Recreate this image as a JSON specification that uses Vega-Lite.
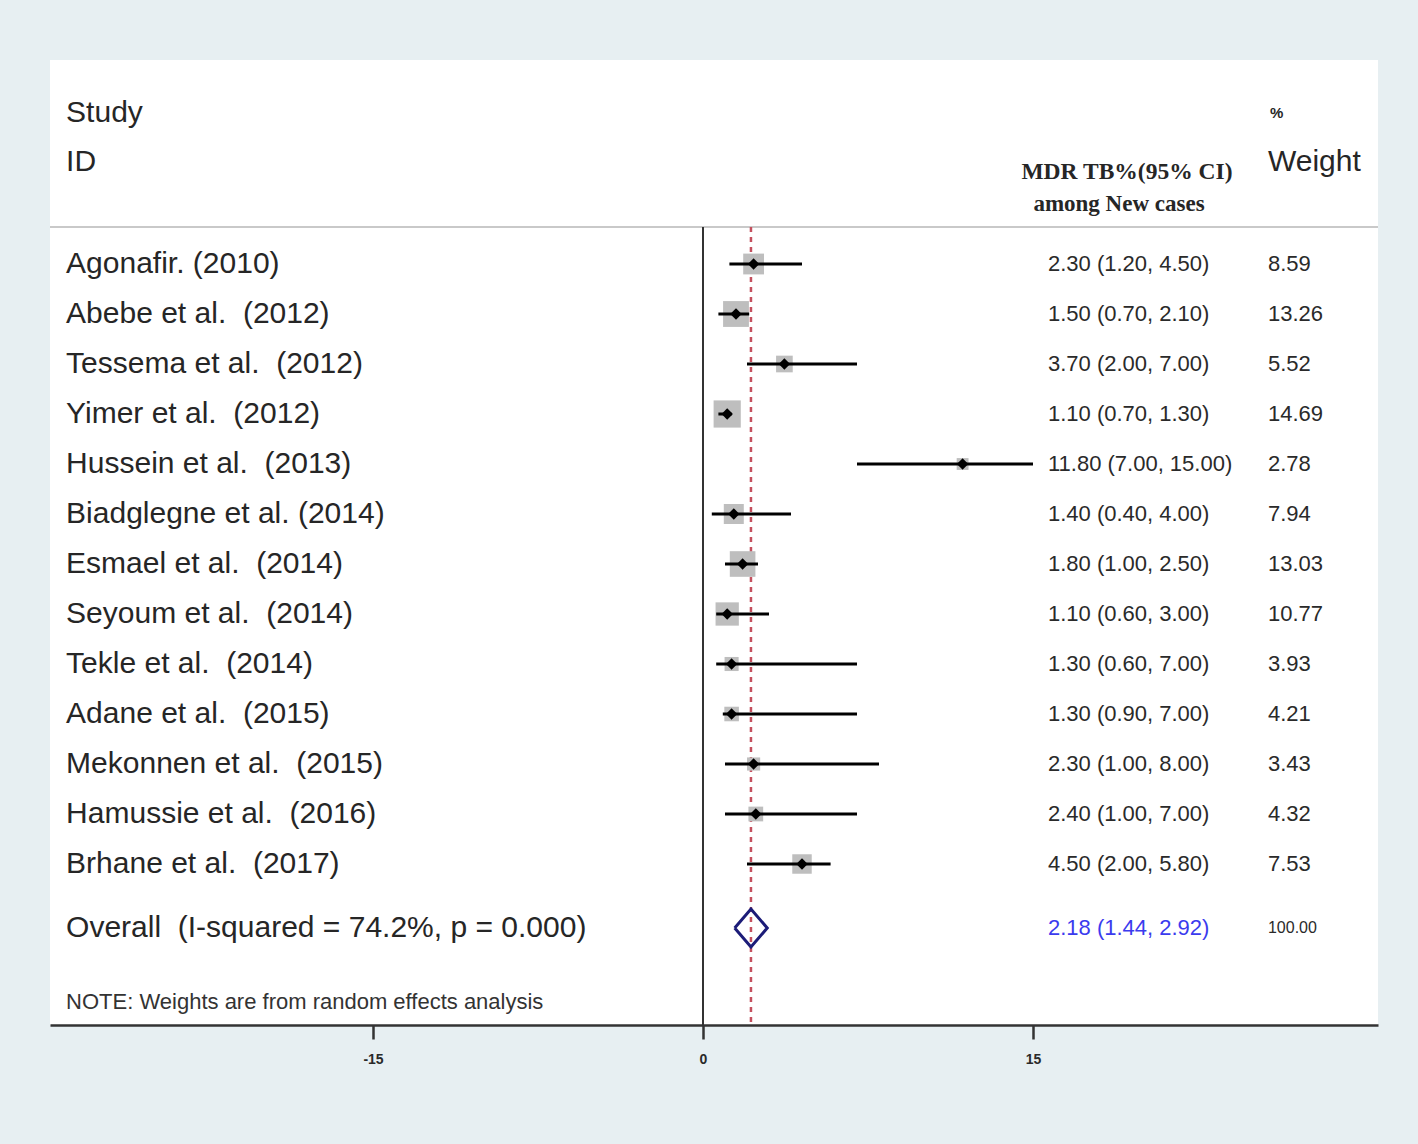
{
  "$schema": "https://vega.github.io/schema/vega-lite/v6.json",
  "autosize": {"type": "none"},
  "width": 1328,
  "height": 965,
  "padding": {"left": 50, "top": 60, "right": 40, "bottom": 119},
  "background": "#e7eff2",
  "view": {"fill": "#ffffff", "stroke": null},
  "config": {
    "axisX": {
      "domainColor": "#333333", "domainWidth": 2.5,
      "tickColor": "#333333", "tickWidth": 2.5, "tickSize": 14,
      "labelFont": "Liberation Sans", "labelFontSize": 14, "labelFontWeight": "bold",
      "labelColor": "#2a2a2a", "labelPadding": 13, "grid": false, "labelFlush": false
    }
  },
  "datasets": {
    "studies": [
      {"row": 1, "study": "Agonafir. (2010)", "es": 2.30, "lo": 1.20, "hi": 4.50, "w": 8.59, "ci": "2.30 (1.20, 4.50)", "wt": "8.59"},
      {"row": 2, "study": "Abebe et al.\u00a0 (2012)", "es": 1.50, "lo": 0.70, "hi": 2.10, "w": 13.26, "ci": "1.50 (0.70, 2.10)", "wt": "13.26"},
      {"row": 3, "study": "Tessema et al.\u00a0 (2012)", "es": 3.70, "lo": 2.00, "hi": 7.00, "w": 5.52, "ci": "3.70 (2.00, 7.00)", "wt": "5.52"},
      {"row": 4, "study": "Yimer et al.\u00a0 (2012)", "es": 1.10, "lo": 0.70, "hi": 1.30, "w": 14.69, "ci": "1.10 (0.70, 1.30)", "wt": "14.69"},
      {"row": 5, "study": "Hussein et al.\u00a0 (2013)", "es": 11.80, "lo": 7.00, "hi": 15.00, "w": 2.78, "ci": "11.80 (7.00, 15.00)", "wt": "2.78"},
      {"row": 6, "study": "Biadglegne et al. (2014)", "es": 1.40, "lo": 0.40, "hi": 4.00, "w": 7.94, "ci": "1.40 (0.40, 4.00)", "wt": "7.94"},
      {"row": 7, "study": "Esmael et al.\u00a0 (2014)", "es": 1.80, "lo": 1.00, "hi": 2.50, "w": 13.03, "ci": "1.80 (1.00, 2.50)", "wt": "13.03"},
      {"row": 8, "study": "Seyoum et al.\u00a0 (2014)", "es": 1.10, "lo": 0.60, "hi": 3.00, "w": 10.77, "ci": "1.10 (0.60, 3.00)", "wt": "10.77"},
      {"row": 9, "study": "Tekle et al.\u00a0 (2014)", "es": 1.30, "lo": 0.60, "hi": 7.00, "w": 3.93, "ci": "1.30 (0.60, 7.00)", "wt": "3.93"},
      {"row": 10, "study": "Adane et al.\u00a0 (2015)", "es": 1.30, "lo": 0.90, "hi": 7.00, "w": 4.21, "ci": "1.30 (0.90, 7.00)", "wt": "4.21"},
      {"row": 11, "study": "Mekonnen et al.\u00a0 (2015)", "es": 2.30, "lo": 1.00, "hi": 8.00, "w": 3.43, "ci": "2.30 (1.00, 8.00)", "wt": "3.43"},
      {"row": 12, "study": "Hamussie et al.\u00a0 (2016)", "es": 2.40, "lo": 1.00, "hi": 7.00, "w": 4.32, "ci": "2.40 (1.00, 7.00)", "wt": "4.32"},
      {"row": 13, "study": "Brhane et al.\u00a0 (2017)", "es": 4.50, "lo": 2.00, "hi": 5.80, "w": 7.53, "ci": "4.50 (2.00, 5.80)", "wt": "7.53"}
    ],
    "overall": [
      {"row": 14.28, "label": "Overall\u00a0 (I-squared = 74.2%, p = 0.000)", "es": 2.18, "lo": 1.44, "hi": 2.92, "ci": "2.18 (1.44, 2.92)", "wt": "100.00"}
    ],
    "diamond": [
      {"o": 1, "x": 1.44, "y": 14.28},
      {"o": 2, "x": 2.18, "y": 13.9},
      {"o": 3, "x": 2.92, "y": 14.28},
      {"o": 4, "x": 2.18, "y": 14.66},
      {"o": 5, "x": 1.44, "y": 14.28}
    ]
  },
  "layer": [
    {
      "data": {"values": [{"t": "-15"}]},
      "mark": {"type": "rule", "color": "#c9c9c9", "strokeWidth": 2},
      "encoding": {
        "y": {"datum": 0.26, "type": "quantitative", "axis": null, "scale": {"domain": [-3.08, 16.22], "reverse": true, "nice": false, "zero": false}}
      }
    },
    {
      "data": {"values": [{"t": 0}]},
      "mark": {"type": "rule", "color": "#333333", "strokeWidth": 2},
      "encoding": {
        "x": {"datum": 0, "type": "quantitative", "title": null, "scale": {"domain": [-29.682, 30.682], "nice": false, "zero": false}, "axis": {"values": [-15, 0, 15], "title": null, "labelExpr": "'' + datum.value"}},
        "y": {"datum": 0.26, "type": "quantitative", "axis": null},
        "y2": {"datum": 16.22}
      }
    },
    {
      "data": {"name": "overall"},
      "mark": {"type": "rule", "color": "#c4505e", "strokeWidth": 2.5, "strokeDash": [5, 5]},
      "encoding": {
        "x": {"field": "es", "type": "quantitative", "title": null},
        "y": {"datum": 0.26, "type": "quantitative", "axis": null},
        "y2": {"datum": 16.22}
      }
    },
    {
      "data": {"name": "studies"},
      "mark": {"type": "point", "shape": "square", "filled": true, "color": "#bebebe", "opacity": 1},
      "encoding": {
        "x": {"field": "es", "type": "quantitative", "title": null},
        "y": {"field": "row", "type": "quantitative", "axis": null},
        "size": {"field": "w", "type": "quantitative", "legend": null, "scale": {"type": "linear", "domain": [0, 14.69], "range": [0, 740], "zero": true}}
      }
    },
    {
      "data": {"name": "studies"},
      "mark": {"type": "rule", "color": "#000000", "strokeWidth": 3},
      "encoding": {
        "x": {"field": "lo", "type": "quantitative", "title": null},
        "x2": {"field": "hi"},
        "y": {"field": "row", "type": "quantitative", "axis": null}
      }
    },
    {
      "data": {"name": "studies"},
      "mark": {"type": "point", "shape": "diamond", "filled": true, "color": "#000000", "size": 130, "opacity": 1},
      "encoding": {
        "x": {"field": "es", "type": "quantitative", "title": null},
        "y": {"field": "row", "type": "quantitative", "axis": null}
      }
    },
    {
      "data": {"name": "diamond"},
      "mark": {"type": "line", "color": "#1c1c78", "strokeWidth": 3, "strokeJoin": "miter"},
      "encoding": {
        "x": {"field": "x", "type": "quantitative", "title": null},
        "y": {"field": "y", "type": "quantitative", "axis": null},
        "order": {"field": "o", "type": "quantitative"}
      }
    },
    {
      "data": {"name": "studies"},
      "mark": {"type": "text", "align": "left", "baseline": "middle", "font": "Liberation Sans", "fontSize": 30, "color": "#262626"},
      "encoding": {
        "x": {"datum": -28.95, "type": "quantitative", "title": null},
        "y": {"field": "row", "type": "quantitative", "axis": null},
        "text": {"field": "study"}
      }
    },
    {
      "data": {"name": "studies"},
      "mark": {"type": "text", "align": "left", "baseline": "middle", "font": "Liberation Sans", "fontSize": 22, "color": "#2a2a2a"},
      "encoding": {
        "x": {"datum": 15.68, "type": "quantitative", "title": null},
        "y": {"field": "row", "type": "quantitative", "axis": null},
        "text": {"field": "ci"}
      }
    },
    {
      "data": {"name": "studies"},
      "mark": {"type": "text", "align": "left", "baseline": "middle", "font": "Liberation Sans", "fontSize": 22, "color": "#2a2a2a"},
      "encoding": {
        "x": {"datum": 25.68, "type": "quantitative", "title": null},
        "y": {"field": "row", "type": "quantitative", "axis": null},
        "text": {"field": "wt"}
      }
    },
    {
      "data": {"name": "overall"},
      "mark": {"type": "text", "align": "left", "baseline": "middle", "font": "Liberation Sans", "fontSize": 30, "color": "#262626"},
      "encoding": {
        "x": {"datum": -28.95, "type": "quantitative", "title": null},
        "y": {"field": "row", "type": "quantitative", "axis": null},
        "text": {"field": "label"}
      }
    },
    {
      "data": {"name": "overall"},
      "mark": {"type": "text", "align": "left", "baseline": "middle", "font": "Liberation Sans", "fontSize": 22, "color": "#3b3bee"},
      "encoding": {
        "x": {"datum": 15.68, "type": "quantitative", "title": null},
        "y": {"field": "row", "type": "quantitative", "axis": null},
        "text": {"field": "ci"}
      }
    },
    {
      "data": {"name": "overall"},
      "mark": {"type": "text", "align": "left", "baseline": "middle", "font": "Liberation Sans", "fontSize": 16, "color": "#2a2a2a"},
      "encoding": {
        "x": {"datum": 25.68, "type": "quantitative", "title": null},
        "y": {"field": "row", "type": "quantitative", "axis": null},
        "text": {"field": "wt"}
      }
    },
    {
      "data": {"values": [{"t": "Study"}]},
      "mark": {"type": "text", "align": "left", "baseline": "middle", "font": "Liberation Sans", "fontSize": 30, "color": "#262626"},
      "encoding": {
        "x": {"datum": -28.95, "type": "quantitative", "title": null},
        "y": {"datum": -2.02, "type": "quantitative", "axis": null},
        "text": {"field": "t"}
      }
    },
    {
      "data": {"values": [{"t": "ID"}]},
      "mark": {"type": "text", "align": "left", "baseline": "middle", "font": "Liberation Sans", "fontSize": 30, "color": "#262626"},
      "encoding": {
        "x": {"datum": -28.95, "type": "quantitative", "title": null},
        "y": {"datum": -1.04, "type": "quantitative", "axis": null},
        "text": {"field": "t"}
      }
    },
    {
      "data": {"values": [{"t": "%"}]},
      "mark": {"type": "text", "align": "left", "baseline": "middle", "font": "Liberation Sans", "fontSize": 15, "fontWeight": "bold", "color": "#262626"},
      "encoding": {
        "x": {"datum": 25.77, "type": "quantitative", "title": null},
        "y": {"datum": -2.02, "type": "quantitative", "axis": null},
        "text": {"field": "t"}
      }
    },
    {
      "data": {"values": [{"t": "Weight"}]},
      "mark": {"type": "text", "align": "left", "baseline": "middle", "font": "Liberation Sans", "fontSize": 30, "color": "#262626"},
      "encoding": {
        "x": {"datum": 25.68, "type": "quantitative", "title": null},
        "y": {"datum": -1.04, "type": "quantitative", "axis": null},
        "text": {"field": "t"}
      }
    },
    {
      "data": {"values": [{"t": "MDR TB%(95% CI)"}]},
      "mark": {"type": "text", "align": "center", "baseline": "middle", "font": "Liberation Serif", "fontSize": 23.5, "fontWeight": "bold", "color": "#262626"},
      "encoding": {
        "x": {"datum": 19.27, "type": "quantitative", "title": null},
        "y": {"datum": -0.84, "type": "quantitative", "axis": null},
        "text": {"field": "t"}
      }
    },
    {
      "data": {"values": [{"t": "among New cases"}]},
      "mark": {"type": "text", "align": "center", "baseline": "middle", "font": "Liberation Serif", "fontSize": 23, "fontWeight": "bold", "color": "#262626"},
      "encoding": {
        "x": {"datum": 18.91, "type": "quantitative", "title": null},
        "y": {"datum": -0.2, "type": "quantitative", "axis": null},
        "text": {"field": "t"}
      }
    },
    {
      "data": {"values": [{"t": "NOTE: Weights are from random effects analysis"}]},
      "mark": {"type": "text", "align": "left", "baseline": "middle", "font": "Liberation Sans", "fontSize": 22, "color": "#333333"},
      "encoding": {
        "x": {"datum": -28.95, "type": "quantitative", "title": null},
        "y": {"datum": 15.76, "type": "quantitative", "axis": null},
        "text": {"field": "t"}
      }
    }
  ]
}
